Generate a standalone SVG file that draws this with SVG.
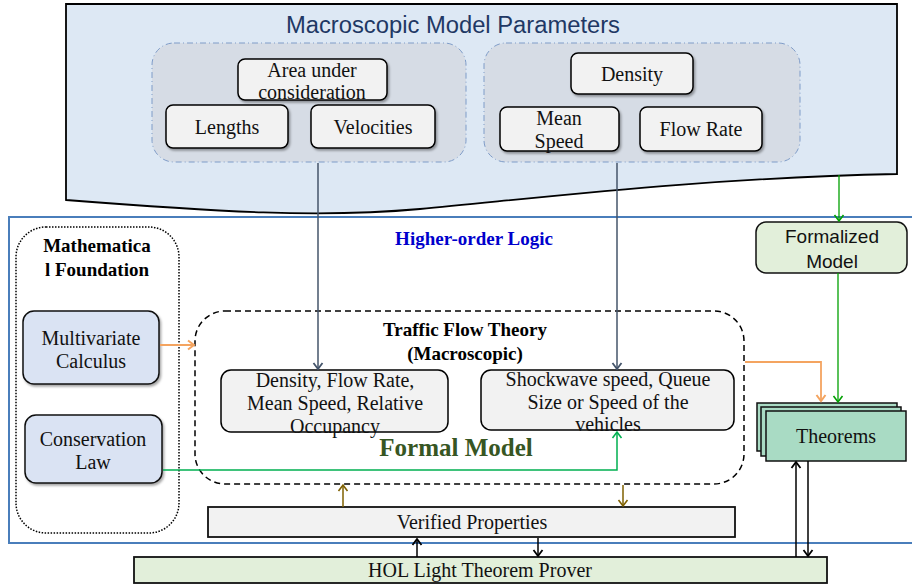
<svg xmlns="http://www.w3.org/2000/svg" width="912" height="587" viewBox="0 0 912 587">
<defs>
  <filter id="sh" x="-10%" y="-10%" width="130%" height="140%">
    <feDropShadow dx="1.5" dy="2" stdDeviation="1.2" flood-color="#000" flood-opacity="0.35"/>
  </filter>
  <marker id="aSlate" markerWidth="12" markerHeight="12" refX="10" refY="6" orient="auto" markerUnits="userSpaceOnUse" viewBox="0 0 12 12">
    <path d="M4,1.5 L10,6 L4,10.5" fill="none" stroke="#44546a" stroke-width="1.8"/>
  </marker>
  <marker id="aGreen" markerWidth="12" markerHeight="12" refX="10" refY="6" orient="auto" markerUnits="userSpaceOnUse" viewBox="0 0 12 12">
    <path d="M4,1.5 L10,6 L4,10.5" fill="none" stroke="#00a000" stroke-width="1.6"/>
  </marker>
  <marker id="aLGreen" markerWidth="12" markerHeight="12" refX="10" refY="6" orient="auto" markerUnits="userSpaceOnUse" viewBox="0 0 12 12">
    <path d="M4,1.5 L10,6 L4,10.5" fill="none" stroke="#00b050" stroke-width="1.6"/>
  </marker>
  <marker id="aOrange" markerWidth="12" markerHeight="12" refX="10" refY="6" orient="auto" markerUnits="userSpaceOnUse" viewBox="0 0 12 12">
    <path d="M4,1.5 L10,6 L4,10.5" fill="none" stroke="#f4a460" stroke-width="2"/>
  </marker>
  <marker id="aBrown" markerWidth="12" markerHeight="12" refX="10" refY="6" orient="auto" markerUnits="userSpaceOnUse" viewBox="0 0 12 12">
    <path d="M4,1.5 L10,6 L4,10.5" fill="none" stroke="#7f6000" stroke-width="1.6"/>
  </marker>
  <marker id="aBlack" markerWidth="12" markerHeight="12" refX="10" refY="6" orient="auto" markerUnits="userSpaceOnUse" viewBox="0 0 12 12">
    <path d="M4,1.5 L10,6 L4,10.5" fill="none" stroke="#000" stroke-width="1.8"/>
  </marker>
</defs>
<style>
  .serif { font-family: "Liberation Serif", "DejaVu Serif", serif; }
  .sans { font-family: "Liberation Sans", "DejaVu Sans", sans-serif; }
  .pbox { fill: #f2f2f2; stroke: #000; stroke-width: 1.5; }
  .grp { fill: #d6dce5; stroke: #7f9cc8; stroke-width: 1; stroke-dasharray: 6 3 1 3; }
  .t20 { font-size: 20px; fill: #111; text-anchor: middle; }
</style>

<g id="macro">
  <path d="M66,4 H897 V174 C700,178 540,198 420,209 C320,218 220,212 66,200 Z" fill="#dde8f4" stroke="#000" stroke-width="1.8"/>
  <text x="453" y="33" class="sans" font-size="23" fill="#1f3864" text-anchor="middle" textLength="334" lengthAdjust="spacingAndGlyphs">Macroscopic Model Parameters</text>
  <rect class="grp" x="152" y="43" width="314" height="119" rx="22"/>
  <rect class="grp" x="484" y="43" width="316" height="119" rx="22"/>
</g>
<g id="area"><rect class="pbox" filter="url(#sh)" x="238" y="59" width="149" height="41" rx="7"/>
  <text class="serif t20" x="312" y="77">Area under</text><text class="serif t20" x="312" y="99">consideration</text></g>
<g id="lengths"><rect class="pbox" filter="url(#sh)" x="166" y="105" width="122" height="43" rx="7"/>
  <text class="serif t20" x="227" y="134">Lengths</text></g>
<g id="velocities"><rect class="pbox" filter="url(#sh)" x="311" y="105" width="124" height="43" rx="7"/>
  <text class="serif t20" x="373" y="134">Velocities</text></g>
<g id="density"><rect class="pbox" filter="url(#sh)" x="571" y="53" width="122" height="41" rx="7"/>
  <text class="serif t20" x="632" y="81">Density</text></g>
<g id="meanspeed"><rect class="pbox" filter="url(#sh)" x="500" y="107" width="119" height="44" rx="7"/>
  <text class="serif t20" x="559" y="125">Mean</text><text class="serif t20" x="559" y="148">Speed</text></g>
<g id="flowrate"><rect class="pbox" filter="url(#sh)" x="640" y="107" width="122" height="44" rx="7"/>
  <text class="serif t20" x="701" y="136">Flow Rate</text></g>

<g id="hol-logic">
  <rect x="9" y="217" width="920" height="326" fill="none" stroke="#4a7ebb" stroke-width="2"/>
  <text x="474" y="245" class="serif" font-size="19" font-weight="bold" fill="#0000cc" text-anchor="middle">Higher-order Logic</text>
</g>

<g id="mathfound">
  <rect x="16" y="227" width="163" height="306" rx="30" fill="none" stroke="#000" stroke-width="1.5" stroke-dasharray="1.5 1.5"/>
  <text class="serif" x="97" y="252" font-size="19" font-weight="bold" text-anchor="middle">Mathematica</text>
  <text class="serif" x="97" y="276" font-size="19" font-weight="bold" text-anchor="middle">l Foundation</text>
</g>
<g id="multivariate"><rect x="23" y="311" width="136" height="73" rx="11" fill="#dae3f3" stroke="#111" stroke-width="1.5" filter="url(#sh)"/>
  <text class="serif t20" x="91" y="345">Multivariate</text><text class="serif t20" x="91" y="368">Calculus</text></g>
<g id="conservation"><rect x="25" y="415" width="137" height="68" rx="11" fill="#dae3f3" stroke="#111" stroke-width="1.5" filter="url(#sh)"/>
  <text class="serif t20" x="93" y="446">Conservation</text><text class="serif t20" x="93" y="469">Law</text></g>

<g id="traffic">
  <rect x="195" y="311" width="549" height="173" rx="30" fill="none" stroke="#000" stroke-width="1.5" stroke-dasharray="6 4"/>
  <text class="serif" x="465" y="336" font-size="19" font-weight="bold" text-anchor="middle">Traffic Flow Theory</text>
  <text class="serif" x="465" y="360" font-size="19" font-weight="bold" text-anchor="middle">(Macroscopic)</text>
  <text class="serif" x="456" y="456" font-size="25" font-weight="bold" fill="#375623" text-anchor="middle">Formal Model</text>
</g>
<g id="fm1"><rect class="pbox" x="221" y="370" width="227" height="62" rx="10"/>
  <text class="serif t20" x="335" y="387">Density, Flow Rate,</text>
  <text class="serif t20" x="335" y="410">Mean Speed, Relative</text>
  <text class="serif t20" x="335" y="433">Occupancy</text></g>
<g id="fm2"><rect class="pbox" x="481" y="370" width="253" height="60" rx="10"/>
  <text class="serif t20" x="608" y="386">Shockwave speed, Queue</text>
  <text class="serif t20" x="608" y="409">Size or Speed of the</text>
  <text class="serif t20" x="608" y="431">vehicles</text></g>

<g id="formalized"><rect x="756" y="222" width="151" height="51" rx="10" fill="#e2efda" stroke="#111" stroke-width="1.5"/>
  <text class="sans" font-size="19" text-anchor="middle" fill="#111" x="832" y="243">Formalized</text><text class="sans" font-size="19" text-anchor="middle" fill="#111" x="832" y="268">Model</text></g>

<g id="theorems">
  <rect x="757" y="403" width="140" height="48" fill="#a9dbc4" stroke="#111" stroke-width="1.5"/>
  <rect x="761" y="407" width="140" height="49" fill="#a9dbc4" stroke="#111" stroke-width="1.5"/>
  <rect x="766" y="411" width="140" height="50" fill="#a9dbc4" stroke="#111" stroke-width="1.5"/>
  <text class="serif t20" x="836" y="443">Theorems</text>
</g>

<g id="verified"><rect x="208" y="507" width="527" height="30" fill="#f2f2f2" stroke="#111" stroke-width="1.8"/>
  <text class="serif t20" x="472" y="529">Verified Properties</text></g>

<g id="hol"><rect x="134" y="557" width="693" height="26" fill="#e2efda" stroke="#111" stroke-width="1.8"/>
  <text class="serif t20" x="480" y="577" fill="#1f3864">HOL Light Theorem Prover</text></g>

<g id="connectors" fill="none">
  <line x1="318" y1="163" x2="318" y2="369" stroke="#44546a" stroke-width="1.5" marker-end="url(#aSlate)"/>
  <line x1="617" y1="163" x2="617" y2="369" stroke="#44546a" stroke-width="1.5" marker-end="url(#aSlate)"/>
  <line x1="839" y1="175" x2="839" y2="221" stroke="#00a000" stroke-width="1.3" marker-end="url(#aGreen)"/>
  <line x1="838" y1="273" x2="838" y2="402" stroke="#00a000" stroke-width="1.3" marker-end="url(#aGreen)"/>
  <polyline points="745,362 821,362 821,401" stroke="#f4a460" stroke-width="1.8" marker-end="url(#aOrange)"/>
  <line x1="160" y1="345" x2="194" y2="345" stroke="#f4a460" stroke-width="1.8" marker-end="url(#aOrange)"/>
  <polyline points="163,470 617,470 617,432" stroke="#00b050" stroke-width="1.5" marker-end="url(#aLGreen)"/>
  <line x1="343" y1="507" x2="343" y2="485" stroke="#7f6000" stroke-width="1.5" marker-end="url(#aBrown)"/>
  <line x1="623" y1="485" x2="623" y2="506" stroke="#7f6000" stroke-width="1.5" marker-end="url(#aBrown)"/>
  <line x1="417" y1="557" x2="417" y2="539" stroke="#000" stroke-width="1.5" marker-end="url(#aBlack)"/>
  <line x1="538" y1="538" x2="538" y2="556" stroke="#000" stroke-width="1.5" marker-end="url(#aBlack)"/>
  <line x1="796" y1="557" x2="796" y2="462" stroke="#000" stroke-width="1.5" marker-end="url(#aBlack)"/>
  <line x1="808" y1="461" x2="808" y2="556" stroke="#000" stroke-width="1.5" marker-end="url(#aBlack)"/>
</g>
</svg>
